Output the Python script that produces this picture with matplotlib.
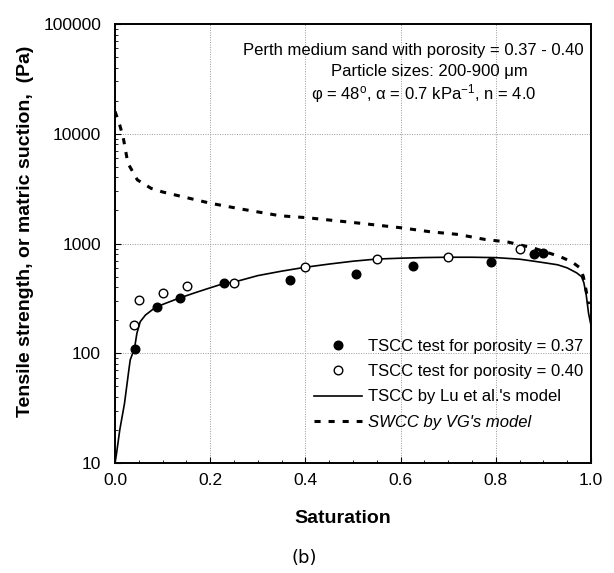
import matplotlib
matplotlib.use("Agg")
import matplotlib.pyplot as plt
from matplotlib.ticker import FixedLocator, MultipleLocator, LogLocator, NullFormatter

plt.rcParams["font.family"] = ["Liberation Sans", "DejaVu Sans"]
plt.rcParams["mathtext.fontset"] = "custom"
plt.rcParams["mathtext.rm"] = "Liberation Sans"
plt.rcParams["mathtext.it"] = "Liberation Sans:italic"

# Measured tensile strength (Pa) vs saturation
sat_037 = [0.043, 0.088, 0.136, 0.230, 0.368, 0.507, 0.627, 0.789, 0.881, 0.900]
ts_037 = [109, 262, 317, 434, 465, 524, 626, 674, 802, 825]

sat_040 = [0.039, 0.050, 0.100, 0.151, 0.249, 0.400, 0.550, 0.700, 0.851]
ts_040 = [181, 306, 352, 410, 441, 608, 722, 748, 898]

# Lu et al. model curve (TSCC)
sat_lu = [0.0, 0.003, 0.01, 0.02, 0.029, 0.032, 0.041, 0.046, 0.053, 0.064,
          0.085, 0.106, 0.134, 0.169, 0.197, 0.230, 0.25, 0.30, 0.35, 0.40,
          0.45, 0.50, 0.55, 0.60, 0.65, 0.70, 0.75, 0.80, 0.85, 0.88, 0.90,
          0.93, 0.95, 0.97, 0.98, 0.985, 0.99, 0.995, 1.0]
ts_lu = [10, 12, 20, 35, 70, 87, 111, 152, 194, 223,
         262, 285, 317, 357, 391, 434, 445, 510, 560, 608,
         650, 690, 722, 735, 745, 750, 750, 744, 720, 690, 670,
         640, 600, 540, 500, 440, 340, 230, 180]

# van Genuchten SWCC curve (matric suction)
sat_vg = [0.0, 0.01, 0.017, 0.027, 0.047, 0.076, 0.10, 0.147, 0.20, 0.263,
          0.347, 0.403, 0.515, 0.602, 0.662, 0.721, 0.777, 0.826, 0.879,
          0.935, 0.96, 0.977, 0.984, 0.991, 0.995]
suction_vg = [16000, 12000, 9400, 5400, 3800, 3180, 2950, 2640, 2330, 2070,
              1790, 1720, 1530, 1390, 1280, 1210, 1090, 1030, 910,
              760, 680, 600, 500, 350, 280]

x_ticks = [0.0, 0.2, 0.4, 0.6, 0.8, 1.0]
y_ticks = [10, 100, 1000, 10000, 100000]
y_tick_labels = ["10", "100", "1000", "10000", "100000"]

fig = plt.figure(figsize=(6.14, 5.73), dpi=100)
ax = fig.add_axes([0.1873, 0.192, 0.7752, 0.766])

ax.set_yscale("log")
ax.set_xlim(0.0, 1.0)
ax.set_ylim(10, 100000)

ax.plot(sat_037, ts_037, linestyle="none", marker="o", ms=6.2,
        mfc="black", mec="black", label="TSCC test for porosity = 0.37", zorder=4)
ax.plot(sat_040, ts_040, linestyle="none", marker="o", ms=6.2,
        mfc="white", mec="black", mew=1.0, label="TSCC test for porosity = 0.40", zorder=4)
ax.plot(sat_lu, ts_lu, color="black", lw=1.2,
        label="TSCC by Lu et al.'s model", zorder=3)
ax.plot(sat_vg, suction_vg, color="black", lw=2.2, linestyle=(0, (2.0, 2.6)),
        label="SWCC by VG's model", zorder=3)

ax.xaxis.set_major_locator(FixedLocator(x_ticks))
ax.xaxis.set_minor_locator(MultipleLocator(0.05))
ax.set_xticklabels([f"{v:.1f}" for v in x_ticks])
ax.yaxis.set_major_locator(FixedLocator(y_ticks))
ax.set_yticklabels(y_tick_labels)
ax.yaxis.set_minor_locator(LogLocator(base=10, subs=range(2, 10)))
ax.yaxis.set_minor_formatter(NullFormatter())

ax.tick_params(axis="both", which="major", direction="in", length=4, width=0.8,
               labelsize=12.5, top=False, right=False)
ax.tick_params(axis="x", which="major", pad=7)
ax.tick_params(axis="y", which="major", pad=10)
ax.tick_params(axis="both", which="minor", direction="in", length=2.5, width=0.6,
               top=False, right=False)

ax.grid(True, which="major", color="#999999", linestyle=(0, (1, 1.5)), linewidth=0.7)
for s in ax.spines.values():
    s.set_linewidth(1.4)
    s.set_color("black")

ax.set_xlabel("Saturation", fontsize=14, fontweight="bold")
ax.xaxis.set_label_coords(0.479, -0.108)
ax.set_ylabel("Tensile strength, or matric suction,  (Pa)", fontsize=14,
              fontweight="bold", va="center")
ax.yaxis.set_label_coords(-0.187, 0.527)

ax.text(0.627, 58000, "Perth medium sand with porosity = 0.37 - 0.40",
        ha="center", va="center", fontsize=12)
ax.text(0.660, 36600, "Particle sizes: 200-900 μm",
        ha="center", va="center", fontsize=12)
ax.text(0.648, 23500, r"φ = 48$^{\mathrm{o}}$, α = 0.7 kPa$^{-1}$, n = 4.0",
        ha="center", va="center", fontsize=12)

leg = ax.legend(loc="lower right", bbox_to_anchor=(1.005, 0.053), frameon=False,
                fontsize=12, handlelength=2.9, handletextpad=0.35,
                labelspacing=0.62, borderaxespad=0.2)
leg.get_texts()[3].set_fontstyle("italic")

fig.text(0.495, 0.026, "(b)", ha="center", va="center", fontsize=13,
         family="DejaVu Sans")

fig.savefig("out.png", dpi=100)
